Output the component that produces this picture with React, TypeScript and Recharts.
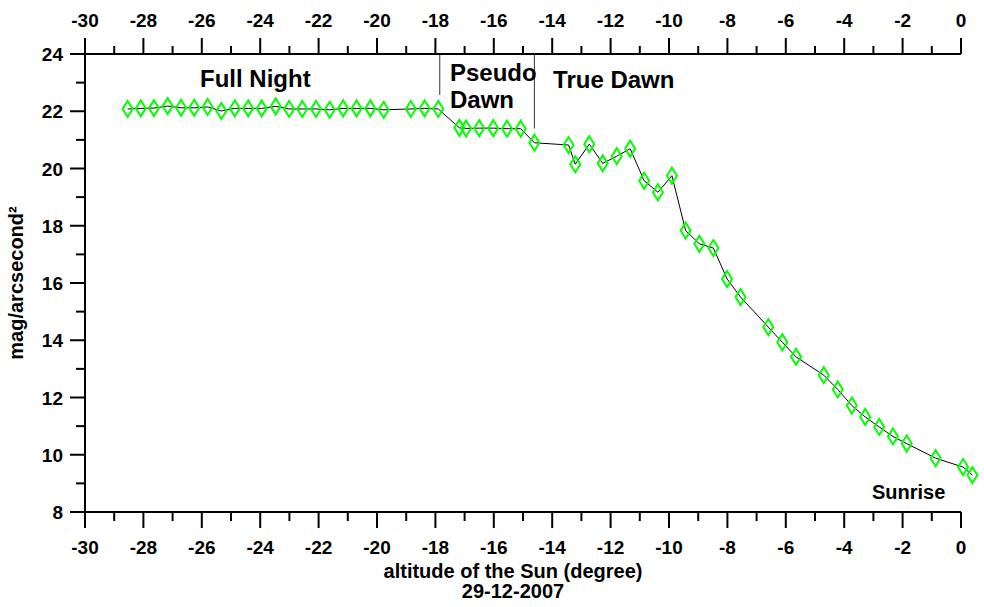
import { LineChart, Line, XAxis, YAxis, ReferenceLine, ReferenceDot } from 'recharts';

// Sky brightness against solar altitude, 29-12-2007
const altitude = [
  -28.54, -28.09, -27.64, -27.17, -26.71, -26.26, -25.8, -25.33, -24.87, -24.41,
  -23.95, -23.47, -23.01, -22.56, -22.09, -21.62, -21.16, -20.7, -20.23, -19.77,
  -18.84, -18.37, -17.9, -17.18, -16.95, -16.5, -16.02, -15.55, -15.08, -14.61,
  -13.44, -13.21, -12.73, -12.27, -11.79, -11.33, -10.85, -10.38, -9.9, -9.43,
  -8.96, -8.48, -8.01, -7.55, -6.6, -6.12, -5.65, -4.7, -4.22, -3.74,
  -3.28, -2.8, -2.33, -1.86, -0.87, 0.07, 0.39,
];

const brightness = [
  22.08, 22.1, 22.11, 22.18, 22.12, 22.12, 22.15, 22.01, 22.1, 22.1,
  22.1, 22.17, 22.08, 22.08, 22.08, 22.05, 22.1, 22.1, 22.1, 22.05,
  22.08, 22.1, 22.08, 21.42, 21.4, 21.41, 21.41, 21.39, 21.39, 20.9,
  20.82, 20.15, 20.85, 20.18, 20.43, 20.69, 19.57, 19.17, 19.75, 17.83,
  17.37, 17.22, 16.14, 15.51, 14.46, 13.93, 13.42, 12.78, 12.28, 11.72,
  11.32, 10.97, 10.64, 10.39, 9.88, 9.57, 9.29,
];

const xTicks = Array.from({ length: 31 }, (_, i) => i - 30);
const yTicks = Array.from({ length: 17 }, (_, i) => i + 8);

// phase boundaries: [altitude, lower end of the marker line]
const boundaries = [
  [-17.85, 22.57],
  [-14.61, 21.4],
];

const annotations = [
  { text: 'Full Night', x: -26.06, y: 22.83 },
  { text: 'Pseudo', x: -17.5, y: 23.06 },
  { text: 'Dawn', x: -17.5, y: 22.13 },
  { text: 'True Dawn', x: -13.97, y: 22.8 },
  { text: 'Sunrise', x: -3.05, y: 8.47, small: true },
];

const data = altitude.map((a, i) => ({ alt: a, mag: brightness[i] }));

const FONT = '"Liberation Sans", Arial, sans-serif';

const isMajor = (v: number) => v % 2 === 0;

const BottomTick = ({ x, y, payload }: any) => {
  const v = payload.value;
  return (
    <g>
      <line x1={x} x2={x} y1={y} y2={y + (isMajor(v) ? 16 : 9)} stroke='#000' strokeWidth={2} />
      {isMajor(v) && (
        <text x={x} y={y + 42} textAnchor='middle' fontFamily={FONT} fontWeight='bold' fontSize={19} fill='#000'>
          {v}
        </text>
      )}
    </g>
  );
};

const TopTick = ({ x, y, payload }: any) => {
  const v = payload.value;
  return (
    <g>
      <line x1={x} x2={x} y1={y} y2={y - (isMajor(v) ? 16 : 8)} stroke='#000' strokeWidth={2} />
      {isMajor(v) && (
        <text x={x} y={y - 27} textAnchor='middle' fontFamily={FONT} fontWeight='bold' fontSize={19} fill='#000'>
          {v}
        </text>
      )}
    </g>
  );
};

const LeftTick = ({ x, y, payload }: any) => {
  const v = payload.value;
  return (
    <g>
      <line x1={x} x2={x - (isMajor(v) ? 15 : 9)} y1={y} y2={y} stroke='#000' strokeWidth={2} />
      {isMajor(v) && (
        <text x={x - 22} y={y + 7} textAnchor='end' fontFamily={FONT} fontWeight='bold' fontSize={19} fill='#000'>
          {v}
        </text>
      )}
    </g>
  );
};

const Diamond = ({ cx, cy }: any) => (
  <polygon
    points={`${cx},${cy - 8} ${cx + 5},${cy} ${cx},${cy + 8} ${cx - 5},${cy}`}
    fill='none'
    stroke='#00ff00'
    strokeWidth={2}
  />
);

export default function App() {
  return (
    <div>
      {/* the last two readings sit just past 0 degrees, outside the axis range */}
      <style>{'body{margin:0} .recharts-wrapper svg [clip-path]{clip-path:none !important}'}</style>
      <LineChart width={984} height={607} data={data} margin={{ top: 53, right: 23, bottom: 94, left: 84 }}>
        <XAxis
          xAxisId='bottom'
          dataKey='alt'
          type='number'
          domain={[-30, 0]}
          allowDataOverflow
          ticks={xTicks}
          interval={0}
          height={1}
          tickSize={0}
          tickMargin={0}
          tickLine={false}
          axisLine={{ stroke: '#000', strokeWidth: 2 }}
          tick={BottomTick}
          label={({ viewBox }: any) => (
            <g fontFamily={FONT} fontWeight='bold' fontSize={20} fill='#000' textAnchor='middle'>
              <text x={viewBox.x + viewBox.width / 2 - 10} y={viewBox.y + 66}>altitude of the Sun (degree)</text>
              <text x={viewBox.x + viewBox.width / 2 - 10} y={viewBox.y + 86}>29-12-2007</text>
            </g>
          )}
        />
        <XAxis
          xAxisId='top'
          orientation='top'
          dataKey='alt'
          type='number'
          domain={[-30, 0]}
          allowDataOverflow
          ticks={xTicks}
          interval={0}
          height={1}
          tickSize={0}
          tickMargin={0}
          tickLine={false}
          axisLine={{ stroke: '#000', strokeWidth: 2 }}
          tick={TopTick}
        />
        <YAxis
          yAxisId='left'
          type='number'
          domain={[8, 24]}
          allowDataOverflow
          ticks={yTicks}
          interval={0}
          width={1}
          tickSize={0}
          tickMargin={0}
          tickLine={false}
          axisLine={{ stroke: '#000', strokeWidth: 2 }}
          tick={LeftTick}
          label={({ viewBox }: any) => {
            const cx = viewBox.x + viewBox.width - 62;
            const cy = viewBox.y + viewBox.height / 2;
            return (
              <text
                x={cx}
                y={cy}
                transform={`rotate(-90 ${cx} ${cy})`}
                textAnchor='middle'
                fontFamily={FONT}
                fontWeight='bold'
                fontSize={20}
                fill='#000'
              >
                mag/arcsecond²
              </text>
            );
          }}
        />
        {boundaries.map(([bx, by], i) => (
          <ReferenceLine
            key={`b-${i}`}
            xAxisId='bottom'
            yAxisId='left'
            segment={[{ x: bx, y: 24 }, { x: bx, y: by }]}
            stroke='#333'
            strokeWidth={1}
          />
        ))}
        {annotations.map((a) => (
          <ReferenceDot
            key={a.text}
            xAxisId='bottom'
            yAxisId='left'
            x={a.x}
            y={a.y}
            r={0}
            fill='none'
            stroke='none'
            label={({ viewBox }: any) => (
              <text
                x={viewBox.x}
                y={viewBox.y}
                fontFamily={FONT}
                fontWeight='bold'
                fontSize={a.small ? 20 : 24}
                fill='#000'
              >
                {a.text}
              </text>
            )}
          />
        ))}
        <Line
          xAxisId='bottom'
          yAxisId='left'
          dataKey='mag'
          stroke='#000'
          strokeWidth={1}
          dot={Diamond}
          activeDot={false}
          isAnimationActive={false}
        />
      </LineChart>
    </div>
  );
}
